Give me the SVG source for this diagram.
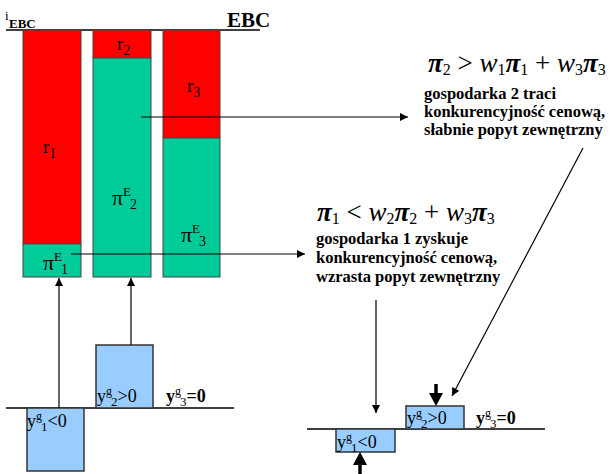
<svg xmlns="http://www.w3.org/2000/svg" width="613" height="474" viewBox="0 0 613 474">
  <defs>
    <marker id="ah" viewBox="0 0 10 10" refX="10" refY="5" markerWidth="9" markerHeight="8" markerUnits="userSpaceOnUse" orient="auto">
      <path d="M0,0 L10,5 L0,10 Z" fill="#000"/>
    </marker>
    <style>
      .red { fill: #ff0000; stroke: #444; stroke-width: 1; }
      .grn { fill: #00cc99; stroke: #444; stroke-width: 1; }
      .blu { fill: #99ccff; stroke: #333; stroke-width: 1.5; }
      .axis { stroke: #000; stroke-width: 1.3; fill: none; }
      .thin { stroke: #000; stroke-width: 1.2; fill: none; marker-end: url(#ah); }
      text { font-family: 'Liberation Serif', 'DejaVu Serif', 'Times New Roman', serif; fill: #000; }
      .note { font-size: 16.5px; font-weight: bold; }
      .math { font-size: 27px; font-style: italic; font-weight: bold; }
      .sub { font-size: 16px; font-style: normal; font-weight: normal; }
      .op { font-style: normal; font-weight: normal; }
      .w { font-weight: normal; }
    </style>
  </defs>

  <!-- EBC level line and labels -->
  <g id="ebc">
    <line class="axis" x1="6" y1="30" x2="260" y2="30"/>
    <text x="5" y="20" font-size="13">i</text>
    <text x="9" y="28" font-size="13" font-weight="bold">EBC</text>
    <text x="227" y="27" font-size="21" font-weight="bold">EBC</text>
  </g>

  <!-- Bar 1 -->
  <g id="bar1">
    <rect class="red" x="23" y="30" width="58" height="214"/>
    <rect class="grn" x="23" y="244" width="58" height="33"/>
    <text x="43" y="153" font-size="19">r<tspan font-size="14" dy="5">1</tspan></text>
    <text x="43" y="270" font-size="22">π<tspan font-size="13" dy="-9">E</tspan><tspan font-size="14" dx="-1" dy="13">1</tspan></text>
  </g>

  <!-- Bar 2 -->
  <g id="bar2">
    <rect class="red" x="93" y="30" width="58" height="28"/>
    <rect class="grn" x="93" y="58" width="58" height="219"/>
    <text x="117" y="50" font-size="19">r<tspan font-size="14" dy="5">2</tspan></text>
    <text x="112" y="205" font-size="22">π<tspan font-size="13" dy="-9">E</tspan><tspan font-size="14" dx="-1" dy="13">2</tspan></text>
  </g>

  <!-- Bar 3 -->
  <g id="bar3">
    <rect class="red" x="163" y="30" width="57" height="108"/>
    <rect class="grn" x="163" y="138" width="57" height="139"/>
    <text x="187" y="92" font-size="19">r<tspan font-size="14" dy="5">3</tspan></text>
    <text x="181" y="242" font-size="22">π<tspan font-size="13" dy="-9">E</tspan><tspan font-size="14" dx="-1" dy="13">3</tspan></text>
  </g>

  <!-- Output gaps, left panel -->
  <g id="gaps-left">
    <line class="axis" x1="6" y1="408" x2="234" y2="408"/>
    <rect class="blu" x="27" y="408" width="57" height="63"/>
    <rect class="blu" x="96" y="345" width="57" height="63"/>
    <text x="27" y="427" font-size="18">y<tspan font-size="12" dy="-7">g</tspan><tspan font-size="13" dx="-1" dy="11">1</tspan><tspan dy="-4">&lt;0</tspan></text>
    <text x="97" y="402" font-size="18">y<tspan font-size="12" dy="-7">g</tspan><tspan font-size="13" dx="-1" dy="11">2</tspan><tspan dy="-4">&gt;0</tspan></text>
    <text x="166" y="402" font-size="18" font-weight="bold">y<tspan font-size="12" font-weight="normal" dy="-7">g</tspan><tspan font-size="13" font-weight="normal" dx="-1" dy="11">3</tspan><tspan dy="-4">=0</tspan></text>
  </g>

  <!-- Output gaps, right panel -->
  <g id="gaps-right">
    <line class="axis" x1="307" y1="429" x2="545" y2="429"/>
    <rect class="blu" x="336" y="429" width="59" height="23"/>
    <rect class="blu" x="406" y="406" width="58" height="23"/>
    <text x="337" y="448" font-size="18">y<tspan font-size="12" dy="-7">g</tspan><tspan font-size="13" dx="-1" dy="11">1</tspan><tspan dy="-4">&lt;0</tspan></text>
    <text x="407" y="424" font-size="18">y<tspan font-size="12" dy="-7">g</tspan><tspan font-size="13" dx="-1" dy="11">2</tspan><tspan dy="-4">&gt;0</tspan></text>
    <text x="476" y="424" font-size="18" font-weight="bold">y<tspan font-size="12" font-weight="normal" dy="-7">g</tspan><tspan font-size="13" font-weight="normal" dx="-1" dy="11">3</tspan><tspan dy="-4">=0</tspan></text>
  </g>

  <!-- Condition for economy 2 -->
  <g id="cond2">
    <text class="math" x="428" y="72">π<tspan class="sub" dy="3">2</tspan><tspan class="op" dy="-3"> &gt; </tspan><tspan class="w">w</tspan><tspan class="sub" dy="3">1</tspan><tspan dy="-3">π</tspan><tspan class="sub" dy="3">1</tspan><tspan class="op" dy="-3"> + </tspan><tspan class="w">w</tspan><tspan class="sub" dy="3">3</tspan><tspan dy="-3">π</tspan><tspan class="sub" dy="3">3</tspan></text>
    <text class="note" x="424" y="99">gospodarka 2 traci</text>
    <text class="note" x="424" y="117">konkurencyjność cenową,</text>
    <text class="note" x="424" y="135">słabnie popyt zewnętrzny</text>
  </g>

  <!-- Condition for economy 1 -->
  <g id="cond1">
    <text class="math" x="317" y="221">π<tspan class="sub" dy="3">1</tspan><tspan class="op" dy="-3"> &lt; </tspan><tspan class="w">w</tspan><tspan class="sub" dy="3">2</tspan><tspan dy="-3">π</tspan><tspan class="sub" dy="3">2</tspan><tspan class="op" dy="-3"> + </tspan><tspan class="w">w</tspan><tspan class="sub" dy="3">3</tspan><tspan dy="-3">π</tspan><tspan class="sub" dy="3">3</tspan></text>
    <text class="note" x="316" y="244">gospodarka 1 zyskuje</text>
    <text class="note" x="316" y="263">konkurencyjność cenową,</text>
    <text class="note" x="316" y="282">wzrasta popyt zewnętrzny</text>
  </g>

  <!-- Connectors -->
  <g id="connectors">
    <line class="thin" x1="59" y1="408" x2="59" y2="278"/>
    <line class="thin" x1="131" y1="345" x2="131" y2="278"/>
    <line class="thin" x1="71" y1="254" x2="305" y2="254"/>
    <line class="thin" x1="141" y1="117" x2="408" y2="117"/>
    <line class="thin" x1="376" y1="300" x2="376" y2="413"/>
    <line class="thin" x1="583" y1="148" x2="452" y2="396"/>
    <!-- heavy arrows pressing on the output gaps -->
    <line x1="436" y1="384" x2="436" y2="395" stroke="#000" stroke-width="3.5"/>
    <path d="M429,393 L443,393 L436,406 Z" fill="#000"/>
    <line x1="360" y1="474" x2="360" y2="463" stroke="#000" stroke-width="3.5"/>
    <path d="M353,465 L367,465 L360,452 Z" fill="#000"/>
  </g>
</svg>
